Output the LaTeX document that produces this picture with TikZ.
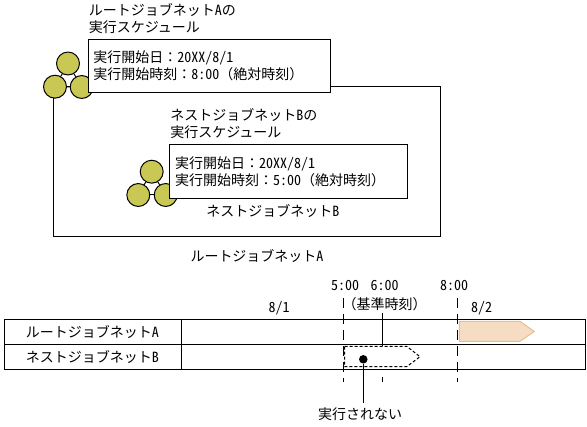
\documentclass[tikz,border=0pt]{standalone}
\usepackage{fontspec}
\setmainfont{Noto Sans CJK JP}
\newfontfamily\hankaku[RawFeature=+hwid]{Noto Sans CJK JP}
\newcommand{\hw}[1]{{\hankaku #1}}
\newcommand{\zcolon}{\char"FF1A\relax}
\newcommand{\zopen}{\char"FF08\relax}
\newcommand{\zclose}{\char"FF09\relax}
\usepackage{xcolor}
\definecolor{jobOlive}{HTML}{C9C854}
\definecolor{barFill}{HTML}{F5DCC3}
\definecolor{barEdge}{HTML}{E8BE90}
\usepackage{tikz}
\usetikzlibrary{
    calc,
    positioning
}
\tikzset{
    % Base style for all texts
    jp base/.style={
        font=\fontsize{10.5}{12.9}\selectfont,
        align=left,
        inner sep=0pt,
        text=black,
    },
    % Job net icon - three joined circles
    job circle/.style={
        circle,
        draw=black,
        fill=jobOlive,
        line width=0.75pt,
        minimum size=17.2pt,
        inner sep=0pt,
    },
    % White box with the schedule
    schedule/.style={
        jp base,
        rectangle,
        draw=black,
        fill=white,
        line width=0.75pt,
        minimum height=40.3pt,
        text width=170pt,
        inner xsep=4pt,
    },
    % Cells of the time table
    cell/.style={
        jp base,
        align=center,
        rectangle,
        draw=black,
        line width=0.75pt,
        minimum height=18.75pt,
    },
    % Dashed time marks
    time mark/.style={
        line width=0.75pt,
        dash pattern=on 7.5pt off 4.5pt,
    },
    conn/.style={
        line width=0.75pt,
    },
}
\begin{document}
\begin{tikzpicture}[x=0.75pt, y=-0.75pt, jp base]
    \useasboundingbox (0,0) rectangle (587,427);

    % root job net
    \node (rootBox) [draw=black, line width=0.75pt, minimum width=290.25pt, minimum height=112.5pt, inner sep=0pt] at (246.5,162) {};
    \node (rootTop) [job circle] at (68,63.5) {};
    \node (rootLeft) [job circle] at (55,86.7) {};
    \node (rootRight) [job circle] at (81.7,87) {};
    \draw [conn] (rootTop) -- (rootLeft);
    \draw [conn] (rootTop) -- (rootRight);
    \draw [conn] (rootLeft) -- (rootRight);
    \node (rootHead) [anchor=north west] at (88.5,3) {ルートジョブネット\hw{A}の\\実行スケジュール};
    \node (rootSched) [schedule, text width=173.5pt, anchor=north west] at (87.5,38.7) {実行開始日\zcolon\hw{20XX/8/1}\\実行開始時刻\zcolon\hw{8:00}\zopen 絶対時刻\zclose};

    % nested job net
    \node (nestTop) [job circle] at (151.7,171.7) {};
    \node (nestLeft) [job circle] at (138.3,195) {};
    \node (nestRight) [job circle] at (165.7,195) {};
    \draw [conn] (nestTop) -- (nestLeft);
    \draw [conn] (nestTop) -- (nestRight);
    \draw [conn] (nestLeft) -- (nestRight);
    \node (nestHead) [anchor=north west] at (170,108) {ネストジョブネット\hw{B}の\\実行スケジュール};
    \node (nestSched) [schedule, anchor=north west] at (169.3,144.3) {実行開始日\zcolon\hw{20XX/8/1}\\実行開始時刻\zcolon\hw{5:00}\zopen 絶対時刻\zclose};
    \node (nestName) at (273,211) {ネストジョブネット\hw{B}};
    \node (rootName) at (257,255.7) {ルートジョブネット\hw{A}};

    % time table
    \node (rowRoot) [cell, minimum width=132.75pt, anchor=north west] at (3.5,319.5) {ルートジョブネット\hw{A}};
    \node (rowNest) [cell, minimum width=132.75pt, anchor=north west] at (3.5,344.5) {ネストジョブネット\hw{B}};
    \node (barRoot) [cell, minimum width=303pt, anchor=north west] at (180.5,319.5) {};
    \node (barNest) [cell, minimum width=303pt, anchor=north west] at (180.5,344.5) {};

    \node (dayOne) at (279,308) {\hw{8/1}};
    \node (dayTwo) at (481.7,307.7) {\hw{8/2}};
    \node (timeFive) at (345,285.7) {\hw{5:00}};
    \node (timeSix) at (384.7,285.7) {\hw{6:00}};
    \node (timeEight) at (454,285.7) {\hw{8:00}};
    \node (baseTime) at (384.5,304) {\zopen 基準時刻\zclose};
    \node (noRun) at (360,414) {実行されない};

    % bars
    \draw [draw=barEdge, fill=barFill, line width=0.75pt] (459.3,321.3) -- (520,321.3) -- (534.3,331.5) -- (520,341.3) -- (459.3,341.3) -- cycle;
    \draw [line width=0.75pt, dash pattern=on 2.25pt off 1.5pt] (344.5,346.3) -- (406.7,346.3) -- (420,356.7) -- (406.7,366.7) -- (344.5,366.7) -- cycle;
    \node (skipDot) [circle, fill=black, minimum size=6.4pt, inner sep=0pt] at (363.3,359.3) {};
    \coordinate (skipEnd) at (363.3,403);
    \draw [conn] (skipDot) -- (skipEnd);

    % time marks
    \coordinate (fiveTop) at (343.3,298);
    \coordinate (fiveEnd) at (343.3,382);
    \coordinate (eightTop) at (457.3,298);
    \coordinate (eightEnd) at (457.3,382);
    \coordinate (sixTop) at (382.3,313);
    \coordinate (sixMid) at (382.3,346);
    \coordinate (sixLow) at (382.3,377);
    \coordinate (sixEnd) at (382.3,382);
    \draw [time mark] (fiveTop) -- (fiveEnd);
    \draw [time mark] (eightTop) -- (eightEnd);
    \draw [conn] (sixTop) -- (sixMid);
    \draw [conn] (sixLow) -- (sixEnd);
\end{tikzpicture}
\end{document}
